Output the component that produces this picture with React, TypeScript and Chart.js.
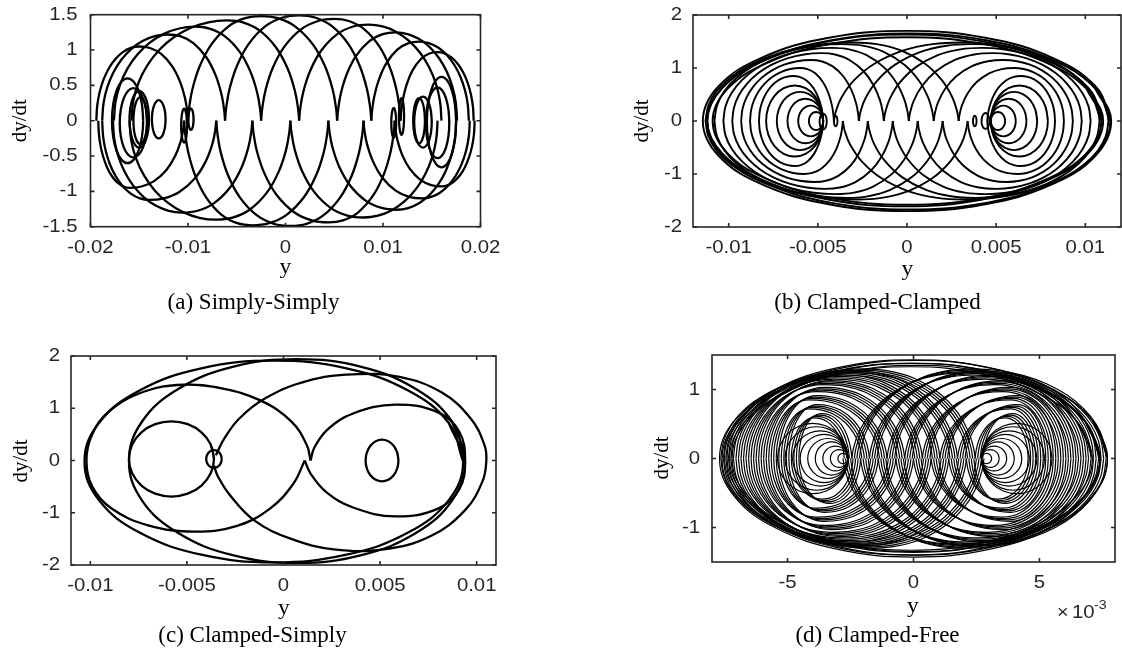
import React, { useEffect, useRef } from "react";
import { Chart, registerables } from "chart.js";

Chart.register(...registerables);

const SANS = '"Liberation Sans", Arial, Helvetica, sans-serif';
const SERIF = '"Liberation Serif", "Times New Roman", Times, serif';

// ---- shape tables ----
// half arch that ends in a cusp: [fraction from foot to peak, fraction of peak height]
const cuspHalf = [[0, 0], [0.015, 0.12], [0.06, 0.3], [0.16, 0.52], [0.32, 0.73], [0.55, 0.9], [0.78, 0.98], [1, 1]];
// half arch that turns round smoothly
const roundHalf = [[0, 0], [0.02, 0.2], [0.076, 0.383], [0.169, 0.556], [0.293, 0.707], [0.444, 0.831], [0.617, 0.924], [0.805, 0.981], [1, 1]];
// closed oval
const loopProfile = [[1, 0], [0.924, 0.383], [0.707, 0.707], [0.383, 0.924], [0, 1], [-0.383, 0.924], [-0.707, 0.707], [-0.924, 0.383], [-1, 0], [-0.924, -0.383], [-0.707, -0.707], [-0.383, -0.924], [0, -1], [0.383, -0.924], [0.707, -0.707], [0.924, -0.383], [1, 0], [0.924, 0.383]];

// ================= (a) Simply-Simply =================
const aXTicks = [-0.02, -0.01, 0, 0.01, 0.02];
const aXTickLabels = ["-0.02", "-0.01", "0", "0.01", "0.02"];
const aYTicks = [-1.5, -1, -0.5, 0, 0.5, 1, 1.5];
const aYTickLabels = ["-1.5", "-1", "-0.5", "0", "0.5", "1", "1.5"];
// [left foot y, peak y, right foot y, peak dy/dt, left round?, right round?]
const aUpperArches = [
  [-0.0194, -0.015, -0.01, 1.05, 1, 0],
  [-0.0188, -0.0121, -0.0062, 1.22, 1, 0],
  [-0.0176, -0.0093, -0.0025, 1.33, 1, 0],
  [-0.0158, -0.006, 0.0014, 1.42, 1, 0],
  [-0.01, -0.0025, 0.0053, 1.48, 0, 0],
  [-0.0062, 0.0014, 0.0088, 1.49, 0, 0],
  [-0.0025, 0.005, 0.0118, 1.44, 0, 0],
  [0.0014, 0.0085, 0.016, 1.36, 0, 1],
  [0.0053, 0.0113, 0.0176, 1.25, 0, 1],
  [0.0088, 0.0137, 0.0188, 1.12, 0, 1],
  [0.0118, 0.0156, 0.0193, 0.97, 0, 1],
];
const aLowerArches = [
  [-0.0192, -0.016, -0.0104, -0.95, 1, 0],
  [-0.0188, -0.014, -0.0071, -1.12, 1, 0],
  [-0.0177, -0.0106, -0.0034, -1.3, 1, 0],
  [-0.016, -0.0071, 0.0005, -1.4, 1, 0],
  [-0.0104, -0.0034, 0.0044, -1.48, 0, 0],
  [-0.0071, 0.0005, 0.008, -1.49, 0, 0],
  [-0.0034, 0.0044, 0.0112, -1.44, 0, 0],
  [0.0005, 0.008, 0.0156, -1.37, 0, 1],
  [0.0044, 0.0114, 0.0175, -1.26, 0, 1],
  [0.008, 0.014, 0.0189, -1.1, 0, 1],
  [0.0112, 0.016, 0.0194, -0.93, 0, 1],
];
// [centre y, centre dy/dt, half width, half height]
const aLoops = [
  [-0.0162, 0.0, 0.0016, 0.6],
  [-0.0156, -0.03, 0.0014, 0.49],
  [-0.015, 0.02, 0.001, 0.4],
  [-0.0149, 0.0, 0.0007, 0.33],
  [-0.013, 0.02, 0.0007, 0.27],
  [-0.0104, -0.07, 0.0003, 0.24],
  [-0.0097, 0.02, 0.00027, 0.15],
  [0.016, -0.02, 0.0015, 0.64],
  [0.0156, -0.03, 0.0012, 0.5],
  [0.0141, -0.02, 0.0009, 0.36],
  [0.0137, 0.0, 0.0006, 0.32],
  [0.0119, 0.06, 0.00026, 0.26],
  [0.0111, -0.03, 0.00025, 0.21],
];

// ================= (b) Clamped-Clamped =================
const bXTicks = [-0.01, -0.005, 0, 0.005, 0.01];
const bXTickLabels = ["-0.01", "-0.005", "0", "0.005", "0.01"];
const bYTicks = [-2, -1, 0, 1, 2];
const bYTickLabels = ["-2", "-1", "0", "1", "2"];
const bUpperArches = [
  [-0.0113, -0.003, 0.0029, 1.48, 1, 0],
  [-0.0108, -0.0036, 0.0015, 1.45, 1, 0],
  [-0.0103, -0.0042, 0.0001, 1.38, 1, 0],
  [-0.0098, -0.0048, -0.0013, 1.28, 1, 0],
  [-0.0093, -0.0054, -0.0027, 1.15, 1, 0],
  [-0.0088, -0.006, -0.0041, 1.0, 1, 0],
  [-0.0083, -0.0064, -0.0047, 0.85, 1, 0],
  [-0.0041, 0.003, 0.0113, 1.48, 0, 1],
  [-0.0027, 0.0036, 0.0108, 1.45, 0, 1],
  [-0.0013, 0.0042, 0.0103, 1.38, 0, 1],
  [0.0001, 0.0048, 0.0098, 1.28, 0, 1],
  [0.0015, 0.0054, 0.0093, 1.15, 0, 1],
  [0.0029, 0.006, 0.0088, 1.0, 0, 1],
  [0.0045, 0.0064, 0.0083, 0.85, 0, 1],
];
const bLowerArches = [
  [-0.0113, -0.0028, 0.0034, -1.48, 1, 0],
  [-0.0108, -0.0034, 0.002, -1.45, 1, 0],
  [-0.0103, -0.004, 0.0006, -1.38, 1, 0],
  [-0.0098, -0.0046, -0.0008, -1.28, 1, 0],
  [-0.0093, -0.0052, -0.0022, -1.15, 1, 0],
  [-0.0088, -0.0058, -0.0036, -1.0, 1, 0],
  [-0.0083, -0.0063, -0.0047, -0.85, 1, 0],
  [-0.0036, 0.0032, 0.0113, -1.48, 0, 1],
  [-0.0022, 0.0038, 0.0108, -1.45, 0, 1],
  [-0.0008, 0.0044, 0.0103, -1.38, 0, 1],
  [0.0006, 0.005, 0.0098, -1.28, 0, 1],
  [0.002, 0.0056, 0.0093, -1.15, 0, 1],
  [0.0034, 0.0062, 0.0088, -1.0, 0, 1],
  [0.0045, 0.0064, 0.0083, -0.85, 0, 1],
];
const bOuterRings = [
  [0.0, 0.0, 0.01145, 1.7],
  [0.0001, -0.01, 0.0113, 1.66],
  [-0.0001, 0.01, 0.0111, 1.62],
  [0.0, 0.0, 0.0109, 1.58],
];
const bEyeRings = [
  [-0.0051, 0, 0.0004, 0.17], [-0.0054, 0, 0.0007, 0.29], [-0.0057, 0, 0.001, 0.42],
  [-0.006, 0, 0.0013, 0.55], [-0.0063, 0, 0.0016, 0.67],
  [0.0051, 0, 0.0004, 0.17], [0.0054, 0, 0.0007, 0.29], [0.0057, 0, 0.001, 0.42],
  [0.006, 0, 0.0013, 0.55], [0.0063, 0, 0.0016, 0.67],
  [-0.0047, -0.01, 0.0002, 0.15], [-0.004, 0.0, 0.0001, 0.1],
  [0.0044, 0.0, 0.00022, 0.15], [0.0038, 0.0, 0.0001, 0.1],
];

// ================= (c) Clamped-Simply =================
const cXTicks = [-0.01, -0.005, 0, 0.005, 0.01];
const cXTickLabels = ["-0.01", "-0.005", "0", "0.005", "0.01"];
const cYTicks = [-2, -1, 0, 1, 2];
const cYTickLabels = ["-2", "-1", "0", "1", "2"];
const cLoops = [
  [-0.0005, -0.02, 0.0098, 1.93],
  [0.0007, -0.01, 0.0087, 1.95],
  [-0.0058, 0.03, 0.0022, 0.72],
  [-0.0036, 0.03, 0.0004, 0.17],
  [0.0051, 0.0, 0.00085, 0.4],
];
const cCuspLeft = [[0.0014, 0.0], [0.0012, 0.3], [0.0004, 0.75], [-0.0012, 1.15], [-0.0032, 1.38], [-0.0052, 1.45], [-0.0072, 1.32], [-0.009, 0.95], [-0.0099, 0.5], [-0.0102, 0.0], [-0.0099, -0.5], [-0.0089, -0.92], [-0.007, -1.24], [-0.0046, -1.36], [-0.0024, -1.25], [-0.0007, -0.92], [0.0005, -0.45], [0.0011, 0.0]];
const cEyeRight = [[0.0014, 0.0], [0.0016, 0.25], [0.0023, 0.6], [0.0036, 0.9], [0.0058, 1.07], [0.008, 0.92], [0.0091, 0.55], [0.0094, 0.0], [0.0091, -0.55], [0.008, -0.92], [0.0058, -1.07], [0.0036, -0.9], [0.0022, -0.6], [0.0014, -0.25], [0.0011, 0.0]];
const cWide = [[-0.0035, 0.1], [-0.0031, 0.4], [-0.0023, 0.8], [-0.0009, 1.2], [0.0012, 1.52], [0.0036, 1.65], [0.006, 1.6], [0.0082, 1.3], [0.0097, 0.8], [0.0104, 0.3], [0.0105, 0.0], [0.0103, -0.4], [0.0094, -0.95], [0.0076, -1.45], [0.0052, -1.7], [0.0026, -1.7], [0.0004, -1.5], [-0.0015, -1.15], [-0.0028, -0.65], [-0.0034, -0.3], [-0.0036, -0.1]];

// ================= (d) Clamped-Free =================
const dXTicks = [-0.005, 0, 0.005];
const dXTickLabels = ["-5", "0", "5"];
const dYTicks = [-1, 0, 1];
const dYTickLabels = ["-1", "0", "1"];
const dUpperArches = [
  [-0.0075, -0.0022, 0.0023, 1.27, 1, 0],
  [-0.0071, -0.0026, 0.0016, 1.24, 1, 0],
  [-0.0067, -0.003, 0.0009, 1.18, 1, 0],
  [-0.0063, -0.0034, 0.0002, 1.1, 1, 0],
  [-0.0059, -0.0037, -0.0005, 1.0, 1, 0],
  [-0.0055, -0.004, -0.0012, 0.88, 1, 0],
  [-0.0051, -0.004, -0.0019, 0.75, 1, 0],
  [-0.0047, -0.0038, -0.0026, 0.62, 1, 0],
  [-0.0023, 0.0022, 0.0075, 1.27, 0, 1],
  [-0.0016, 0.0026, 0.0071, 1.24, 0, 1],
  [-0.0009, 0.003, 0.0067, 1.18, 0, 1],
  [-0.0002, 0.0034, 0.0063, 1.1, 0, 1],
  [0.0005, 0.0037, 0.0059, 1.0, 0, 1],
  [0.0012, 0.004, 0.0055, 0.88, 0, 1],
  [0.0019, 0.004, 0.0051, 0.75, 0, 1],
  [0.0026, 0.0038, 0.0047, 0.62, 0, 1],
];
const dLowerArches = [
  [-0.0075, -0.0019, 0.00265, -1.27, 1, 0],
  [-0.0071, -0.0023, 0.00195, -1.24, 1, 0],
  [-0.0067, -0.0027, 0.00125, -1.18, 1, 0],
  [-0.0063, -0.0031, 0.00055, -1.1, 1, 0],
  [-0.0059, -0.0034, -0.00015, -1.0, 1, 0],
  [-0.0055, -0.0037, -0.00085, -0.88, 1, 0],
  [-0.0051, -0.0037, -0.00155, -0.75, 1, 0],
  [-0.0047, -0.0035, -0.00225, -0.62, 1, 0],
  [-0.00265, 0.0019, 0.0075, -1.27, 0, 1],
  [-0.00195, 0.0023, 0.0071, -1.24, 0, 1],
  [-0.00125, 0.0027, 0.0067, -1.18, 0, 1],
  [-0.00055, 0.0031, 0.0063, -1.1, 0, 1],
  [0.00015, 0.0034, 0.0059, -1.0, 0, 1],
  [0.00085, 0.0037, 0.0055, -0.88, 0, 1],
  [0.00155, 0.0037, 0.0051, -0.75, 0, 1],
  [0.00225, 0.0035, 0.0047, -0.62, 0, 1],
];
// spacing of the strands inside one bundle: [shift in y, change of peak]
const dBundle = [[-0.00015, -0.03], [-0.00005, -0.01], [0.00005, 0.01], [0.00015, 0.03]];
const dOuterRings = [
  [0, 0, 0.0077, 1.43], [0.0001, 0.01, 0.0076, 1.41], [-0.0001, -0.01, 0.0075, 1.39],
  [0, 0.01, 0.0074, 1.37], [0.0001, 0, 0.0073, 1.35], [-0.0001, 0, 0.0072, 1.33],
];
const dEyeRings = [
  [-0.0028, 0, 0.0002, 0.075], [-0.00295, 0, 0.00035, 0.13], [-0.0031, 0, 0.0005, 0.18],
  [-0.00325, 0, 0.00065, 0.24], [-0.0034, 0, 0.0008, 0.29], [-0.00355, 0, 0.00095, 0.35],
  [-0.0037, 0, 0.0011, 0.4], [-0.00385, 0, 0.00125, 0.46], [-0.004, 0, 0.0014, 0.51],
  [0.0029, 0, 0.0002, 0.075], [0.00305, 0, 0.00035, 0.13], [0.0032, 0, 0.0005, 0.18],
  [0.00335, 0, 0.00065, 0.24], [0.0035, 0, 0.0008, 0.29], [0.00365, 0, 0.00095, 0.35],
  [0.0038, 0, 0.0011, 0.4], [0.00395, 0, 0.00125, 0.46], [0.0041, 0, 0.0014, 0.51],
];

// ---- builders ----
type P = { x: number; y: number };
function archPoints(a: number[]): P[] {
  const [L, p, R, H, lr, rr] = a;
  const left = lr ? roundHalf : cuspHalf;
  const right = rr ? roundHalf : cuspHalf;
  const pts: P[] = [];
  for (const [f, h] of left) pts.push({ x: L + f * (p - L), y: h * H });
  for (let i = right.length - 2; i >= 0; i--) {
    const [f, h] = right[i];
    pts.push({ x: R - f * (R - p), y: h * H });
  }
  return pts;
}
function loopPoints(l: number[]): P[] {
  const [cx, cy, a, b] = l;
  return loopProfile.map(([u, v]) => ({ x: cx + u * a, y: cy + v * b }));
}
function listPoints(l: number[][]): P[] {
  return l.map(([x, y]) => ({ x, y }));
}
function bundled(arches: number[][]): number[][] {
  const out: number[][] = [];
  for (const a of arches) for (const [dx, dh] of dBundle) out.push([a[0] + dx, a[1] + dx, a[2] + dx, a[3] + dh * Math.sign(a[3]), a[4], a[5]]);
  return out;
}

type Panel = {
  ox: number; oy: number;
  pad: { left: number; top: number; right: number; bottom: number };
  xMin: number; xMax: number; yMin: number; yMax: number;
  xTicks: number[]; xTickLabels: string[]; yTicks: number[]; yTickLabels: string[];
  yLabelGap: number; xLabelDy: number;
  dydtX: number; dydtY: number; yX: number; yY: number;
  caption: string; capX: number; capY: number;
  lw: number; paths: P[][]; exponent?: boolean;
};

const panels: Panel[] = [
  {
    ox: 0, oy: 0, pad: { left: 90.5, top: 14.7, right: 80.5, bottom: 100.3 },
    xMin: -0.02, xMax: 0.02, yMin: -1.5, yMax: 1.5,
    xTicks: aXTicks, xTickLabels: aXTickLabels, yTicks: aYTicks, yTickLabels: aYTickLabels,
    yLabelGap: 13, xLabelDy: 21.6, dydtX: 20, dydtY: 120.7, yX: 285.3, yY: 273,
    caption: "(a) Simply-Simply", capX: 253.5, capY: 309, lw: 2.3,
    paths: [...aUpperArches.map(archPoints), ...aLowerArches.map(archPoints), ...aLoops.map(loopPoints)],
  },
  {
    ox: 561, oy: 0, pad: { left: 132, top: 15, right: 1, bottom: 100 },
    xMin: -0.012, xMax: 0.012, yMin: -2, yMax: 2,
    xTicks: bXTicks, xTickLabels: bXTickLabels, yTicks: bYTicks, yTickLabels: bYTickLabels,
    yLabelGap: 11, xLabelDy: 21, dydtX: 81.5, dydtY: 121, yX: 346.5, yY: 275,
    caption: "(b) Clamped-Clamped", capX: 316.5, capY: 309, lw: 1.9,
    paths: [...bOuterRings.map(loopPoints), ...bEyeRings.map(loopPoints), ...bUpperArches.map(archPoints), ...bLowerArches.map(archPoints)],
  },
  {
    ox: 0, oy: 327, pad: { left: 71, top: 29, right: 65, bottom: 89 },
    xMin: -0.011, xMax: 0.011, yMin: -2, yMax: 2,
    xTicks: cXTicks, xTickLabels: cXTickLabels, yTicks: cYTicks, yTickLabels: cYTickLabels,
    yLabelGap: 11, xLabelDy: 21, dydtX: 21.5, dydtY: 134, yX: 284, yY: 287,
    caption: "(c) Clamped-Simply", capX: 252.5, capY: 315, lw: 2.3,
    paths: [...cLoops.map(loopPoints), listPoints(cCuspLeft), listPoints(cEyeRight), listPoints(cWide)],
  },
  {
    ox: 561, oy: 327, pad: { left: 151, top: 28, right: 7, bottom: 92 },
    xMin: -0.008, xMax: 0.008, yMin: -1.5, yMax: 1.5,
    xTicks: dXTicks, xTickLabels: dXTickLabels, yTicks: dYTicks, yTickLabels: dYTickLabels,
    yLabelGap: 12, xLabelDy: 21, dydtX: 101, dydtY: 131, yX: 352, yY: 285,
    caption: "(d) Clamped-Free", capX: 316.5, capY: 315, lw: 1.2, exponent: true,
    paths: [...dOuterRings.map(loopPoints), ...dEyeRings.map(loopPoints), ...bundled(dUpperArches).map(archPoints), ...bundled(dLowerArches).map(archPoints)],
  },
];

function txt(ctx: CanvasRenderingContext2D, s: string, x: number, y: number, font: string, align: CanvasTextAlign, base: CanvasTextBaseline, sx = 1, color = "#262626") {
  ctx.save();
  ctx.translate(x, y);
  ctx.scale(sx, 1);
  ctx.font = font;
  ctx.fillStyle = color;
  ctx.textAlign = align;
  ctx.textBaseline = base;
  ctx.fillText(s, 0, 0);
  ctx.restore();
}

function framePlugin(p: Panel) {
  return {
    id: "frame",
    afterDraw(chart: any) {
      const ctx: CanvasRenderingContext2D = chart.ctx;
      const ca = chart.chartArea;
      const xs = chart.scales.x;
      const ys = chart.scales.y;
      ctx.save();
      ctx.strokeStyle = "#262626";
      ctx.lineWidth = 1.6;
      ctx.strokeRect(ca.left, ca.top, ca.right - ca.left, ca.bottom - ca.top);
      ctx.beginPath();
      for (const t of p.xTicks) {
        const px = xs.getPixelForValue(t);
        ctx.moveTo(px, ca.bottom); ctx.lineTo(px, ca.bottom - 4);
        ctx.moveTo(px, ca.top); ctx.lineTo(px, ca.top + 4);
      }
      for (const t of p.yTicks) {
        const py = ys.getPixelForValue(t);
        ctx.moveTo(ca.left, py); ctx.lineTo(ca.left + 4, py);
        ctx.moveTo(ca.right, py); ctx.lineTo(ca.right - 4, py);
      }
      ctx.stroke();
      const tf = `18.5px ${SANS}`;
      p.xTicks.forEach((t, i) => txt(ctx, p.xTickLabels[i], xs.getPixelForValue(t), ca.bottom + p.xLabelDy, tf, "center", "middle", 1.1));
      p.yTicks.forEach((t, i) => txt(ctx, p.yTickLabels[i], ca.left - p.yLabelGap, ys.getPixelForValue(t), tf, "right", "middle", 1.1));
      ctx.save();
      ctx.translate(p.dydtX, p.dydtY);
      ctx.rotate(-Math.PI / 2);
      ctx.font = `21px ${SERIF}`;
      ctx.fillStyle = "#000";
      ctx.textAlign = "center";
      ctx.textBaseline = "middle";
      ctx.fillText("dy/dt", 0, 0);
      ctx.restore();
      txt(ctx, "y", p.yX, p.yY, `21px ${SERIF}`, "center", "alphabetic", 1.12, "#000");
      txt(ctx, p.caption, p.capX, p.capY, `23px ${SERIF}`, "center", "alphabetic", 1, "#000");
      if (p.exponent) {
        txt(ctx, "\u00d7", 496, 291, `18px ${SANS}`, "left", "alphabetic", 1.1);
        txt(ctx, "10", 511, 291, `18.5px ${SANS}`, "left", "alphabetic", 1.1);
        txt(ctx, "-3", 533, 282, `13px ${SANS}`, "left", "alphabetic", 1.1);
      }
      ctx.restore();
    },
  };
}

function PanelChart({ p }: { p: Panel }) {
  const ref = useRef<HTMLCanvasElement | null>(null);
  useEffect(() => {
    if (!ref.current) return;
    const chart = new Chart(ref.current, {
      type: "scatter",
      data: {
        datasets: p.paths.map((pts) => ({
          data: pts,
          showLine: true,
          borderColor: "#000",
          borderWidth: p.lw,
          pointRadius: 0,
          pointHoverRadius: 0,
          tension: 0.4,
          fill: false,
        })),
      },
      options: {
        responsive: false,
        animation: false,
        events: [],
        layout: { padding: p.pad },
        plugins: { legend: { display: false }, tooltip: { enabled: false } },
        scales: {
          x: { type: "linear", min: p.xMin, max: p.xMax, display: false },
          y: { type: "linear", min: p.yMin, max: p.yMax, display: false },
        },
      },
      plugins: [framePlugin(p)],
    } as any);
    return () => chart.destroy();
  }, []);
  return (
    <canvas
      ref={ref}
      width={561}
      height={327}
      style={{ position: "absolute", left: p.ox, top: p.oy, width: 561, height: 327 }}
    />
  );
}

export default function App() {
  return (
    <div style={{ position: "absolute", left: 0, top: 0, width: 1122, height: 654, background: "#fff", overflow: "hidden" }}>
      {panels.map((p, i) => (
        <PanelChart key={i} p={p} />
      ))}
    </div>
  );
}
